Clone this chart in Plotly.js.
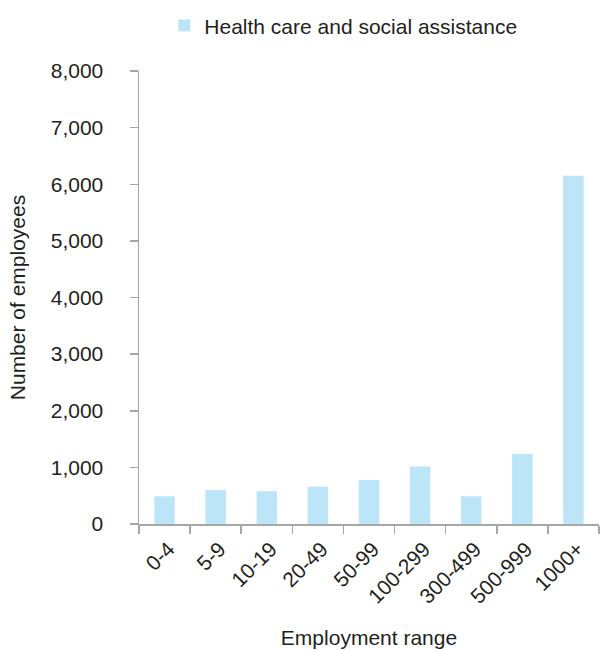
<!DOCTYPE html>
<html>
<head>
<meta charset="utf-8">
<script src="https://cdn.plot.ly/plotly-3.0.1.min.js"></script>
<style>
  html, body { margin: 0; padding: 0; background: #fff; }
  #chart { width: 600px; height: 650px; }
</style>
</head>
<body>
<div id="chart"></div>
<script>
// Employees by establishment size, health care and social assistance
const seriesName = 'Health care and social assistance';
const employmentRanges = ['0-4', '5-9', '10-19', '20-49', '50-99', '100-299', '300-499', '500-999', '1000+'];
const employees = [490, 600, 580, 660, 775, 1015, 490, 1235, 6150];
const yTickValues = [0, 1000, 2000, 3000, 4000, 5000, 6000, 7000, 8000];

const textColor = '#231F20';
const axisColor = '#A6A6A6';
const barColor = '#BDE5F8';
const fontFamily = 'Liberation Sans, Arial, sans-serif';

const trace = {
  type: 'bar',
  name: seriesName,
  x: employmentRanges,
  y: employees,
  marker: { color: barColor },
  width: 0.4,
  showlegend: true,
  hoverinfo: 'x+y'
};

const layout = {
  width: 600,
  height: 650,
  margin: { l: 139, r: 1, t: 71, b: 126, pad: 0 },
  paper_bgcolor: '#ffffff',
  plot_bgcolor: '#ffffff',
  font: { family: fontFamily, size: 21, color: textColor },
  showlegend: true,
  legend: {
    orientation: 'h',
    x: 0.055,
    xanchor: 'left',
    y: 1.145,
    yanchor: 'top',
    font: { family: fontFamily, size: 21, color: textColor },
    bgcolor: 'rgba(0,0,0,0)'
  },
  xaxis: {
    type: 'category',
    tickson: 'boundaries',
    ticks: 'outside',
    ticklen: 8,
    tickwidth: 1.5,
    tickcolor: axisColor,
    showline: true,
    linecolor: axisColor,
    linewidth: 1.5,
    showgrid: false,
    zeroline: false,
    tickangle: -45,
    ticklabelshift: 4,
    ticklabelstandoff: 3,
    tickfont: { family: fontFamily, size: 21, color: textColor },
    title: { text: 'Employment range', font: { family: fontFamily, size: 21, color: textColor }, standoff: 23 }
  },
  yaxis: {
    range: [0, 8000],
    tickvals: yTickValues,
    tickformat: ',d',
    ticks: 'outside',
    ticklen: 8,
    tickwidth: 1.5,
    tickcolor: axisColor,
    ticklabelstandoff: 22,
    showline: true,
    linecolor: axisColor,
    linewidth: 1.5,
    showgrid: false,
    zeroline: false,
    tickfont: { family: fontFamily, size: 21, color: textColor },
    title: { text: 'Number of employees', font: { family: fontFamily, size: 21, color: textColor }, standoff: 19 }
  }
};

Plotly.newPlot('chart', [trace], layout, { displayModeBar: false, staticPlot: true });
</script>
</body>
</html>
